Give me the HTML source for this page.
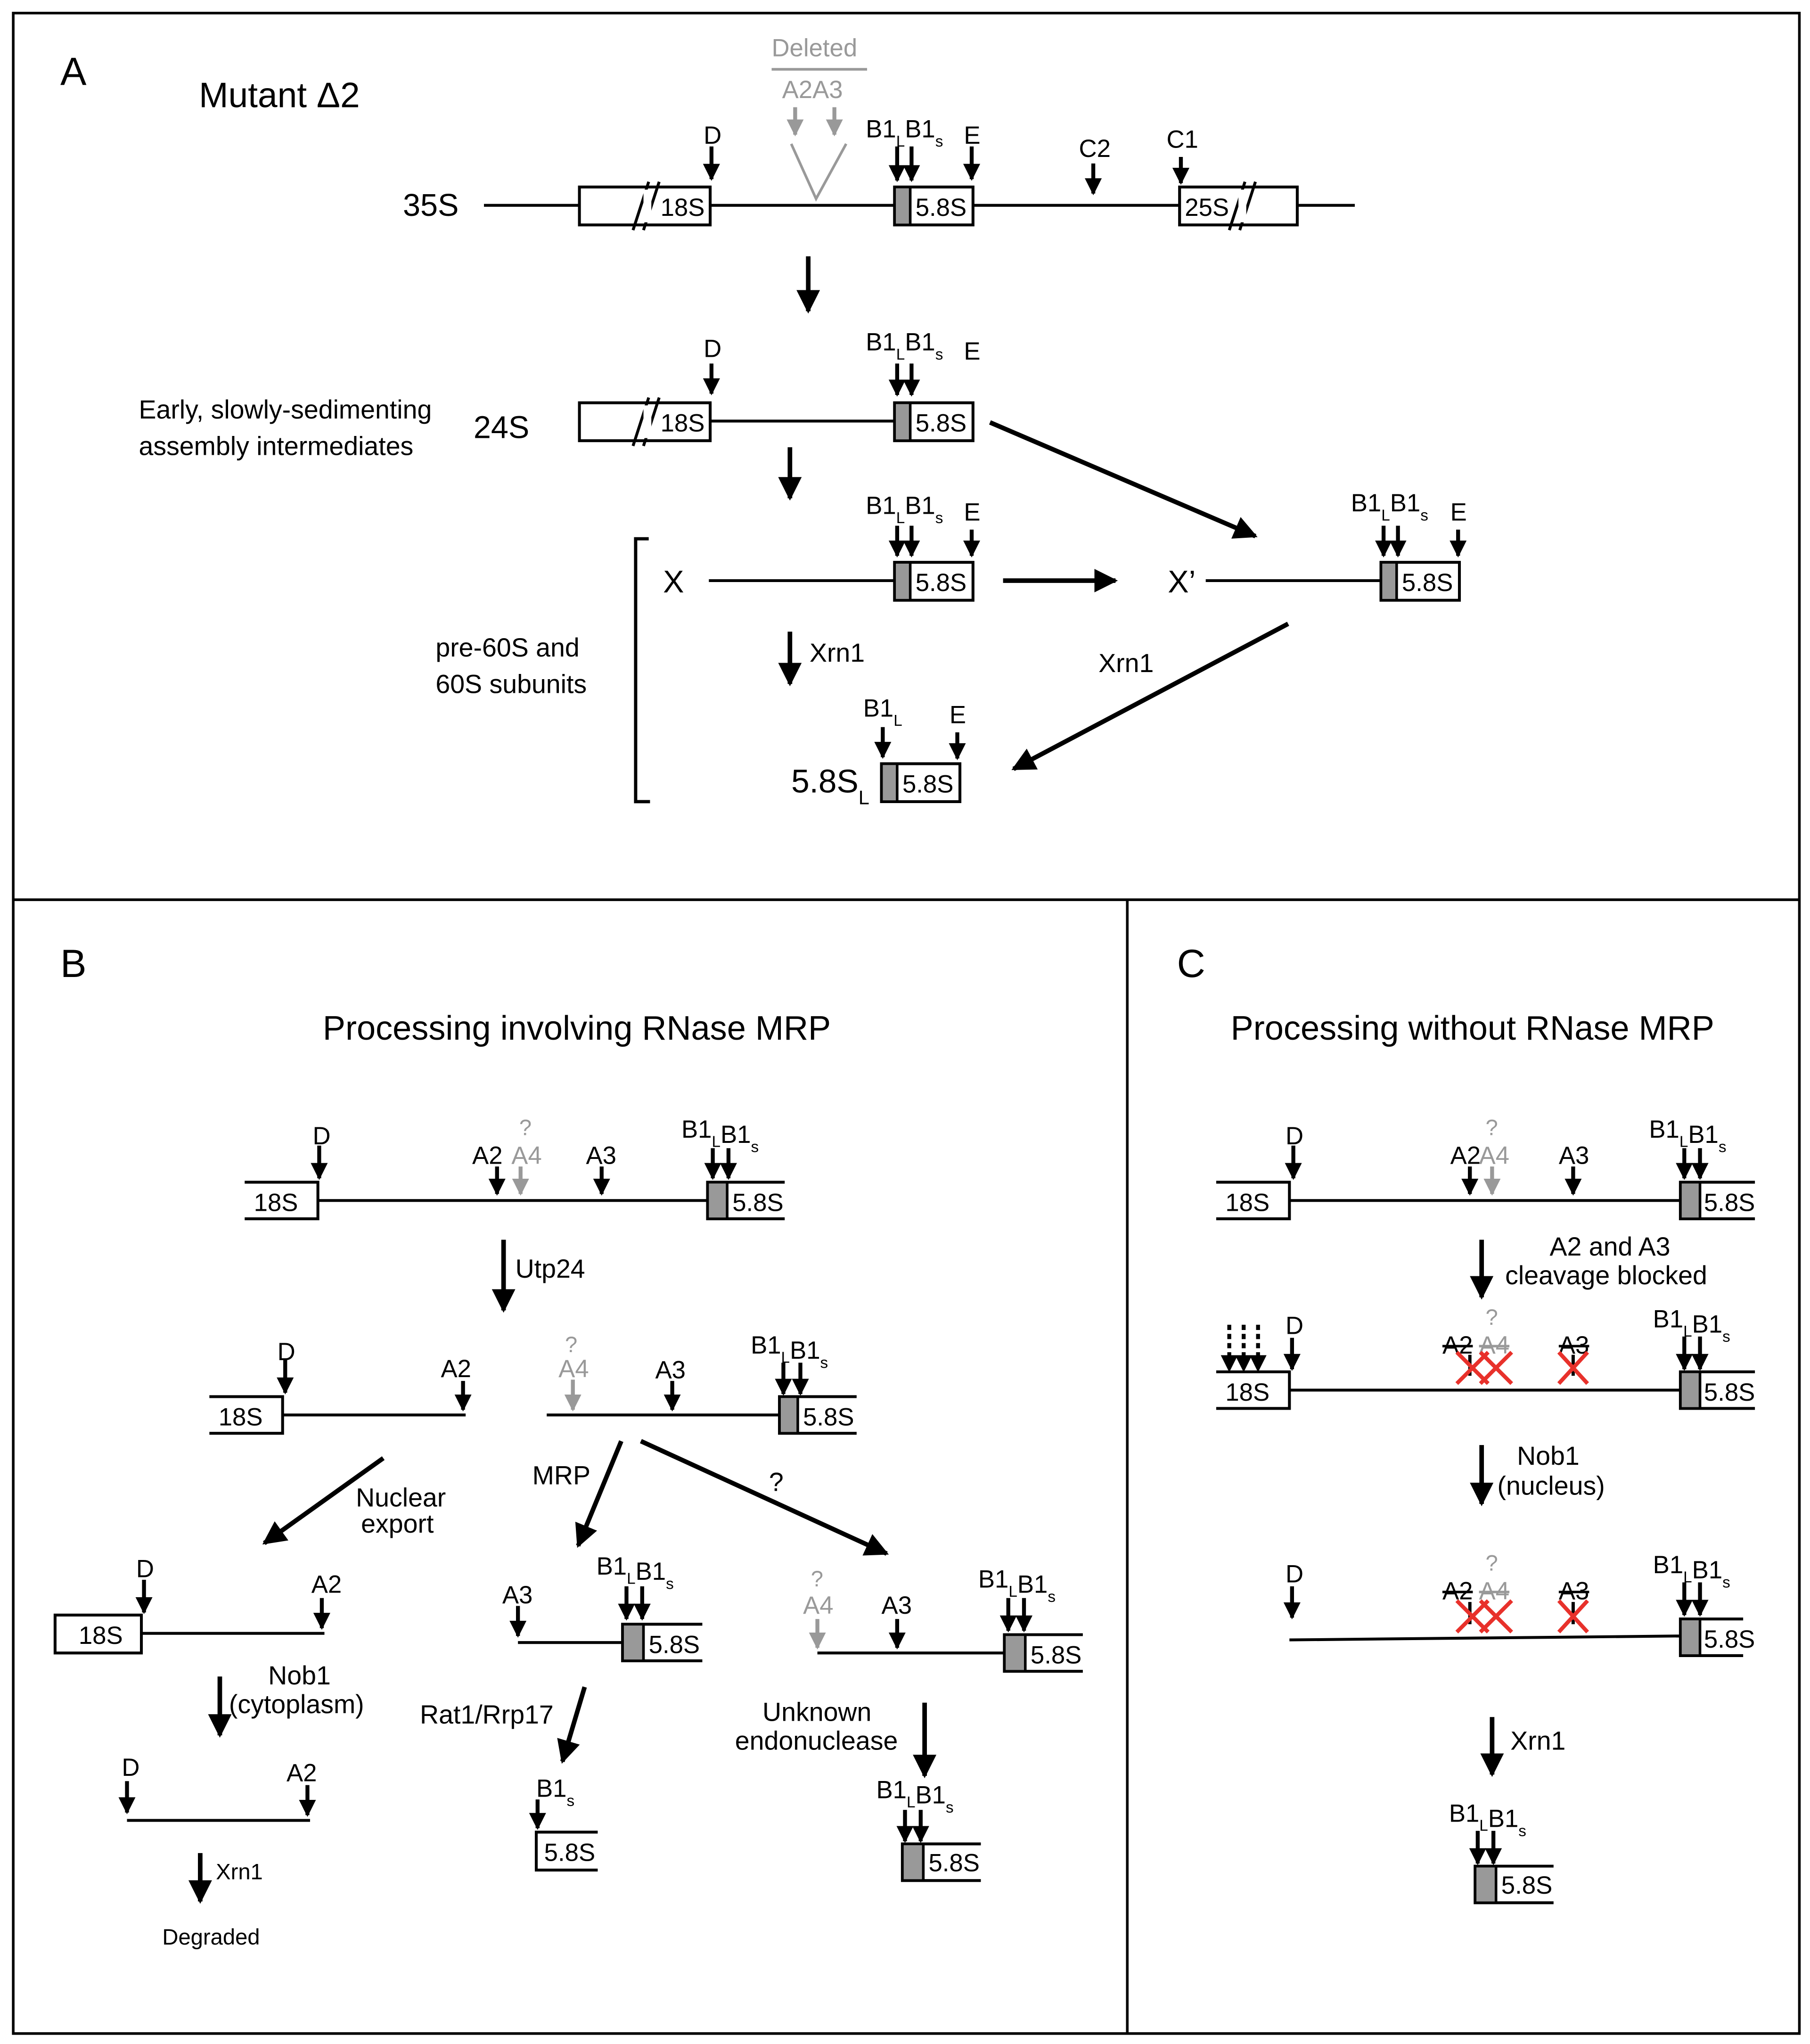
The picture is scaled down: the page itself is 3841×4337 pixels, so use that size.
<!DOCTYPE html>
<html><head><meta charset="utf-8"><style>
html,body{margin:0;padding:0;background:#fff}
svg{display:block}
text{font-family:"Liberation Sans",sans-serif;fill:#000}
.g{fill:#999}
</style></head><body>
<svg width="3841" height="4337" viewBox="0 0 1384 1563" xmlns="http://www.w3.org/2000/svg">
<defs>
<marker id="s" viewBox="0 0 10 10" refX="9" refY="5" markerWidth="13" markerHeight="13" markerUnits="userSpaceOnUse" orient="auto"><path d="M0,0L10,5L0,10z"/></marker>
<marker id="sg" viewBox="0 0 10 10" refX="9" refY="5" markerWidth="13" markerHeight="13" markerUnits="userSpaceOnUse" orient="auto"><path d="M0,0L10,5L0,10z" fill="#999"/></marker>
<marker id="b" viewBox="0 0 10 10" refX="9" refY="5" markerWidth="18" markerHeight="18" markerUnits="userSpaceOnUse" orient="auto"><path d="M0,0L10,5L0,10z"/></marker>
</defs>
<g fill="none" stroke="#000" stroke-width="2">
<rect x="10" y="10" width="1366" height="1545"/>
<line x1="10" y1="688" x2="1376" y2="688"/>
<line x1="862" y1="688" x2="862" y2="1555"/>
</g>

<!-- PANEL A -->
<text x="46" y="65" font-size="30">A</text>
<text x="152" y="82" font-size="27">Mutant Δ2</text>
<text x="590" y="43" font-size="19" class="g">Deleted</text>
<line x1="590" y1="53" x2="663" y2="53" stroke="#999" stroke-width="2"/>
<text x="598" y="75" font-size="19" class="g">A2A3</text>
<g stroke="#999" stroke-width="3" fill="none">
<line x1="608" y1="82" x2="608" y2="103" marker-end="url(#sg)"/>
<line x1="638" y1="82" x2="638" y2="103" marker-end="url(#sg)"/>
</g>
<polyline points="605,110 624,152 647,110" fill="none" stroke="#999" stroke-width="2"/>
<text x="308" y="165" font-size="24">35S</text>
<g fill="none" stroke="#000" stroke-width="2.2">
<line x1="370" y1="157" x2="443" y2="157"/><line x1="543" y1="157" x2="684" y2="157"/><line x1="744" y1="157" x2="902" y2="157"/><line x1="992" y1="157" x2="1036" y2="157"/>
<rect x="443" y="143" width="100" height="29"/>
<line x1="484" y1="176" x2="496" y2="139"/><line x1="492" y1="176" x2="504" y2="139"/>
<rect x="684" y="143" width="60" height="29"/>
<rect x="902" y="143" width="90" height="29"/>
<line x1="940" y1="176" x2="952" y2="139"/><line x1="948" y1="176" x2="960" y2="139"/>
</g>
<rect x="684" y="143" width="12" height="29" fill="#999" stroke="#000" stroke-width="2"/>
<rect x="492" y="145" width="6" height="25" fill="#fff"/>
<rect x="947" y="145" width="6" height="25" fill="#fff"/>
<text x="505" y="165" font-size="19">18S</text>
<text x="700" y="165" font-size="19">5.8S</text>
<text x="906" y="165" font-size="19">25S</text>
<g stroke="#000" stroke-width="3" fill="none" marker-end="url(#s)">
<line x1="544" y1="112" x2="544" y2="137"/>
<line x1="686" y1="112" x2="686" y2="138"/>
<line x1="697" y1="112" x2="697" y2="138"/>
<line x1="743" y1="112" x2="743" y2="137"/>
<line x1="836" y1="125" x2="836" y2="148"/>
<line x1="903" y1="120" x2="903" y2="140"/>
</g>
<text x="538" y="110" font-size="19">D</text>
<text x="662" y="105" font-size="19">B1<tspan font-size="12" dy="7">L</tspan><tspan dy="-7">B1</tspan><tspan font-size="12" dy="7">s</tspan></text>
<text x="737" y="110" font-size="19">E</text>
<text x="825" y="120" font-size="19">C2</text>
<text x="892" y="113" font-size="19">C1</text>
<line x1="618" y1="196" x2="618" y2="238" stroke="#000" stroke-width="3.5" marker-end="url(#b)"/>

<text x="106" y="320" font-size="20">Early, slowly-sedimenting</text>
<text x="106" y="348" font-size="20">assembly intermediates</text>
<text x="362" y="335" font-size="24">24S</text>
<g fill="none" stroke="#000" stroke-width="2.2">
<rect x="443" y="308" width="100" height="29"/>
<line x1="543" y1="322" x2="684" y2="322"/>
<line x1="484" y1="341" x2="496" y2="304"/><line x1="492" y1="341" x2="504" y2="304"/>
<rect x="684" y="308" width="60" height="29"/>
</g>
<rect x="492" y="310" width="6" height="25" fill="#fff"/>
<rect x="684" y="308" width="12" height="29" fill="#999" stroke="#000" stroke-width="2"/>
<text x="505" y="330" font-size="19">18S</text>
<text x="700" y="330" font-size="19">5.8S</text>
<g stroke="#000" stroke-width="3" fill="none" marker-end="url(#s)">
<line x1="544" y1="278" x2="544" y2="301"/>
<line x1="686" y1="278" x2="686" y2="302"/>
<line x1="697" y1="278" x2="697" y2="302"/>
</g>
<text x="538" y="273" font-size="19">D</text>
<text x="662" y="268" font-size="19">B1<tspan font-size="12" dy="7">L</tspan><tspan dy="-7">B1</tspan><tspan font-size="12" dy="7">s</tspan></text>
<text x="737" y="275" font-size="19">E</text>
<line x1="757" y1="323" x2="960" y2="410" stroke="#000" stroke-width="3.5" marker-end="url(#b)"/>
<line x1="604" y1="342" x2="604" y2="381" stroke="#000" stroke-width="3.5" marker-end="url(#b)"/>

<text x="507" y="453" font-size="24">X</text>
<g fill="none" stroke="#000" stroke-width="2.2">
<line x1="542" y1="444" x2="684" y2="444"/>
<rect x="684" y="430" width="60" height="29"/>
<line x1="922" y1="444" x2="1056" y2="444"/>
<rect x="1056" y="430" width="60" height="29"/>
</g>
<rect x="684" y="430" width="12" height="29" fill="#999" stroke="#000" stroke-width="2"/>
<rect x="1056" y="430" width="12" height="29" fill="#999" stroke="#000" stroke-width="2"/>
<text x="700" y="452" font-size="19">5.8S</text>
<text x="1072" y="452" font-size="19">5.8S</text>
<g stroke="#000" stroke-width="3" fill="none" marker-end="url(#s)">
<line x1="686" y1="402" x2="686" y2="425"/>
<line x1="697" y1="402" x2="697" y2="425"/>
<line x1="743" y1="405" x2="743" y2="425"/>
<line x1="1058" y1="402" x2="1058" y2="425"/>
<line x1="1069" y1="402" x2="1069" y2="425"/>
<line x1="1115" y1="405" x2="1115" y2="425"/>
</g>
<text x="662" y="393" font-size="19">B1<tspan font-size="12" dy="7">L</tspan><tspan dy="-7">B1</tspan><tspan font-size="12" dy="7">s</tspan></text>
<text x="737" y="398" font-size="19">E</text>
<text x="1033" y="391" font-size="19">B1<tspan font-size="12" dy="7">L</tspan><tspan dy="-7">B1</tspan><tspan font-size="12" dy="7">s</tspan></text>
<text x="1109" y="398" font-size="19">E</text>
<line x1="767" y1="444" x2="853" y2="444" stroke="#000" stroke-width="3.5" marker-end="url(#b)"/>
<text x="893" y="453" font-size="24">X’</text>
<path d="M496,412H486V613H497" fill="none" stroke="#000" stroke-width="2.5"/>
<text x="333" y="502" font-size="20">pre-60S and</text>
<text x="333" y="530" font-size="20">60S subunits</text>
<line x1="604" y1="483" x2="604" y2="523" stroke="#000" stroke-width="3.5" marker-end="url(#b)"/>
<text x="619" y="506" font-size="20">Xrn1</text>
<text x="840" y="514" font-size="20">Xrn1</text>
<line x1="985" y1="477" x2="775" y2="588" stroke="#000" stroke-width="3.5" marker-end="url(#b)"/>
<text x="605" y="606" font-size="25">5.8S<tspan font-size="15" dy="9">L</tspan></text>
<rect x="674" y="584" width="60" height="29" fill="none" stroke="#000" stroke-width="2.2"/>
<rect x="674" y="584" width="12" height="29" fill="#999" stroke="#000" stroke-width="2"/>
<text x="690" y="606" font-size="19">5.8S</text>
<g stroke="#000" stroke-width="3" fill="none" marker-end="url(#s)">
<line x1="675" y1="556" x2="675" y2="579"/>
<line x1="732" y1="560" x2="732" y2="580"/>
</g>
<text x="660" y="548" font-size="19">B1<tspan font-size="12" dy="7">L</tspan></text>
<text x="726" y="553" font-size="19">E</text>

<!-- PANEL B -->
<text x="46" y="747" font-size="30">B</text>
<text x="441" y="795" font-size="26" text-anchor="middle">Processing involving RNase MRP</text>
<g fill="none" stroke="#000" stroke-width="2.2">
<path d="M187,904H243V932H187"/><line x1="243" y1="918" x2="541" y2="918"/>
<path d="M600,904H541V932H600"/>
<path d="M160,1068H216V1096H160"/><line x1="216" y1="1082" x2="356" y2="1082"/>
<line x1="418" y1="1082" x2="596" y2="1082"/><path d="M655,1068H596V1096H655"/>
<rect x="42" y="1235" width="66" height="29"/><line x1="108" y1="1249" x2="248" y2="1249"/>
<line x1="97" y1="1392" x2="237" y2="1392"/>
<line x1="396" y1="1256" x2="476" y2="1256"/><path d="M537,1242H476V1270H537"/>
<path d="M457,1401H410V1430H457"/>
<line x1="625" y1="1264" x2="768" y2="1264"/><path d="M828,1250H768V1278H828"/>
<path d="M750,1410H690V1438H750"/>
</g>
<g fill="#999" stroke="#000" stroke-width="2">
<rect x="541" y="904" width="15" height="28"/>
<rect x="596" y="1068" width="14" height="28"/>
<rect x="476" y="1242" width="16" height="28"/>
<rect x="768" y="1250" width="16" height="28"/>
<rect x="690" y="1410" width="16" height="28"/>
</g>
<g font-size="19">
<text x="194" y="926">18S</text><text x="560" y="926">5.8S</text>
<text x="167" y="1090">18S</text><text x="614" y="1090">5.8S</text>
<text x="60" y="1257">18S</text>
<text x="496" y="1264">5.8S</text>
<text x="416" y="1423">5.8S</text>
<text x="788" y="1272">5.8S</text>
<text x="710" y="1431">5.8S</text>
</g>
<g stroke="#000" stroke-width="3" fill="none" marker-end="url(#s)">
<line x1="244" y1="876" x2="244" y2="901"/>
<line x1="380" y1="892" x2="380" y2="913"/>
<line x1="460" y1="892" x2="460" y2="913"/>
<line x1="545" y1="878" x2="545" y2="901"/>
<line x1="557" y1="878" x2="557" y2="901"/>
<line x1="218" y1="1040" x2="218" y2="1065"/>
<line x1="354" y1="1056" x2="354" y2="1078"/>
<line x1="514" y1="1056" x2="514" y2="1078"/>
<line x1="599" y1="1042" x2="599" y2="1066"/>
<line x1="612" y1="1042" x2="612" y2="1066"/>
<line x1="110" y1="1208" x2="110" y2="1233"/>
<line x1="246" y1="1222" x2="246" y2="1245"/>
<line x1="97" y1="1362" x2="97" y2="1386"/>
<line x1="235" y1="1365" x2="235" y2="1388"/>
<line x1="396" y1="1228" x2="396" y2="1251"/>
<line x1="479" y1="1213" x2="479" y2="1238"/>
<line x1="491" y1="1213" x2="491" y2="1238"/>
<line x1="411" y1="1376" x2="411" y2="1398"/>
<line x1="686" y1="1238" x2="686" y2="1260"/>
<line x1="771" y1="1222" x2="771" y2="1247"/>
<line x1="783" y1="1222" x2="783" y2="1247"/>
<line x1="692" y1="1384" x2="692" y2="1408"/>
<line x1="704" y1="1384" x2="704" y2="1408"/>
</g>
<g stroke="#999" stroke-width="3" fill="none" marker-end="url(#sg)">
<line x1="398" y1="892" x2="398" y2="913"/>
<line x1="438" y1="1055" x2="438" y2="1078"/>
<line x1="625" y1="1238" x2="625" y2="1260"/>
</g>
<g font-size="19">
<text x="239" y="875">D</text>
<text x="361" y="890">A2</text><text x="391" y="890" class="g">A4</text><text x="397" y="868" class="g" font-size="17">?</text>
<text x="448" y="890">A3</text>
<text x="521" y="870">B1<tspan font-size="12" dy="7">L</tspan><tspan dy="-3">B1</tspan><tspan font-size="12" dy="7">s</tspan></text>
<text x="212" y="1040">D</text>
<text x="337" y="1053">A2</text>
<text x="432" y="1034" class="g" font-size="17">?</text><text x="427" y="1053" class="g">A4</text>
<text x="501" y="1054">A3</text>
<text x="574" y="1035">B1<tspan font-size="12" dy="7">L</tspan><tspan dy="-3">B1</tspan><tspan font-size="12" dy="7">s</tspan></text>
<text x="104" y="1206">D</text>
<text x="238" y="1218">A2</text>
<text x="93" y="1358">D</text>
<text x="219" y="1362">A2</text>
<text x="384" y="1226">A3</text>
<text x="456" y="1204">B1<tspan font-size="12" dy="7">L</tspan><tspan dy="-3">B1</tspan><tspan font-size="12" dy="7">s</tspan></text>
<text x="410" y="1374">B1<tspan font-size="12" dy="7">s</tspan></text>
<text x="620" y="1213" class="g" font-size="17">?</text><text x="614" y="1234" class="g">A4</text>
<text x="674" y="1234">A3</text>
<text x="748" y="1214">B1<tspan font-size="12" dy="7">L</tspan><tspan dy="-3">B1</tspan><tspan font-size="12" dy="7">s</tspan></text>
<text x="670" y="1375">B1<tspan font-size="12" dy="7">L</tspan><tspan dy="-3">B1</tspan><tspan font-size="12" dy="7">s</tspan></text>
</g>
<g stroke="#000" stroke-width="3.5" fill="none" marker-end="url(#b)">
<line x1="385" y1="948" x2="385" y2="1002"/>
<line x1="293" y1="1115" x2="202" y2="1180"/>
<line x1="475" y1="1102" x2="442" y2="1182"/>
<line x1="490" y1="1102" x2="678" y2="1188"/>
<line x1="168" y1="1282" x2="168" y2="1327"/>
<line x1="153" y1="1417" x2="153" y2="1454"/>
<line x1="447" y1="1290" x2="430" y2="1347"/>
<line x1="707" y1="1302" x2="707" y2="1358"/>
</g>
<g font-size="20">
<text x="394" y="977">Utp24</text>
<text x="272" y="1152">Nuclear</text><text x="276" y="1172">export</text>
<text x="407" y="1135">MRP</text>
<text x="588" y="1140">?</text>
<text x="205" y="1288">Nob1</text><text x="175" y="1310">(cytoplasm)</text>
<text x="165" y="1437" font-size="17">Xrn1</text>
<text x="124" y="1487" font-size="17">Degraded</text>
<text x="321" y="1318">Rat1/Rrp17</text>
<text x="583" y="1316">Unknown</text><text x="562" y="1338">endonuclease</text>
</g>

<!-- PANEL C -->
<text x="900" y="747" font-size="30">C</text>
<text x="1126" y="795" font-size="26" text-anchor="middle">Processing without RNase MRP</text>
<g fill="none" stroke="#000" stroke-width="2.2">
<path d="M930,904H986V932H930"/><line x1="986" y1="918" x2="1285" y2="918"/><path d="M1342,904H1285V932H1342"/>
<path d="M930,1049H986V1077H930"/><line x1="986" y1="1063" x2="1285" y2="1063"/><path d="M1342,1049H1285V1077H1342"/>
<line x1="986" y1="1254" x2="1285" y2="1251"/><path d="M1333,1238H1285V1266H1333"/>
<path d="M1188,1427H1128V1455H1188"/>
</g>
<g fill="#999" stroke="#000" stroke-width="2">
<rect x="1285" y="904" width="15" height="28"/>
<rect x="1285" y="1049" width="15" height="28"/>
<rect x="1285" y="1238" width="15" height="28"/>
<rect x="1128" y="1427" width="16" height="28"/>
</g>
<g font-size="19">
<text x="937" y="926">18S</text><text x="1303" y="926">5.8S</text>
<text x="937" y="1071">18S</text><text x="1303" y="1071">5.8S</text>
<text x="1303" y="1260">5.8S</text>
<text x="1148" y="1448">5.8S</text>
</g>
<g stroke="#000" stroke-width="3" fill="none" marker-end="url(#s)">
<line x1="989" y1="876" x2="989" y2="901"/>
<line x1="1124" y1="892" x2="1124" y2="913"/>
<line x1="1203" y1="892" x2="1203" y2="913"/>
<line x1="1288" y1="878" x2="1288" y2="901"/>
<line x1="1300" y1="878" x2="1300" y2="901"/>
<line x1="988" y1="1023" x2="988" y2="1047"/>
<line x1="1288" y1="1022" x2="1288" y2="1047"/>
<line x1="1300" y1="1022" x2="1300" y2="1047"/>
<line x1="988" y1="1213" x2="988" y2="1237"/>
<line x1="1288" y1="1210" x2="1288" y2="1235"/>
<line x1="1300" y1="1210" x2="1300" y2="1235"/>
<line x1="1130" y1="1400" x2="1130" y2="1425"/>
<line x1="1142" y1="1400" x2="1142" y2="1425"/>
</g>
<g stroke="#000" stroke-width="3" fill="none" stroke-dasharray="4,3" marker-end="url(#s)">
<line x1="940" y1="1013" x2="940" y2="1048"/>
<line x1="951" y1="1013" x2="951" y2="1048"/>
<line x1="962" y1="1013" x2="962" y2="1048"/>
</g>
<g stroke="#999" stroke-width="3" fill="none" marker-end="url(#sg)">
<line x1="1141" y1="892" x2="1141" y2="913"/>
</g>
<g font-size="19">
<text x="983" y="875">D</text>
<text x="1109" y="890">A2</text><text x="1131" y="890" class="g">A4</text><text x="1136" y="868" class="g" font-size="17">?</text>
<text x="1192" y="890">A3</text>
<text x="1261" y="870">B1<tspan font-size="12" dy="7">L</tspan><tspan dy="-3">B1</tspan><tspan font-size="12" dy="7">s</tspan></text>
<text x="983" y="1020">D</text>
<text x="1103" y="1035" text-decoration="line-through">A2</text><text x="1131" y="1035" class="g" text-decoration="line-through">A4</text><text x="1136" y="1013" class="g" font-size="17">?</text>
<text x="1192" y="1035" text-decoration="line-through">A3</text>
<text x="1264" y="1015">B1<tspan font-size="12" dy="7">L</tspan><tspan dy="-3">B1</tspan><tspan font-size="12" dy="7">s</tspan></text>
<text x="983" y="1210">D</text>
<text x="1103" y="1223" text-decoration="line-through">A2</text><text x="1131" y="1223" class="g" text-decoration="line-through">A4</text><text x="1136" y="1201" class="g" font-size="17">?</text>
<text x="1192" y="1223" text-decoration="line-through">A3</text>
<text x="1264" y="1203">B1<tspan font-size="12" dy="7">L</tspan><tspan dy="-3">B1</tspan><tspan font-size="12" dy="7">s</tspan></text>
<text x="1108" y="1393">B1<tspan font-size="12" dy="7">L</tspan><tspan dy="-3">B1</tspan><tspan font-size="12" dy="7">s</tspan></text>
</g>
<g stroke="#000" stroke-width="2.5" fill="none">
<line x1="1124" y1="1036" x2="1124" y2="1052"/><line x1="1203" y1="1036" x2="1203" y2="1052"/>
<line x1="1124" y1="1225" x2="1124" y2="1242"/><line x1="1203" y1="1225" x2="1203" y2="1242"/>
</g>
<g stroke="#e8312b" stroke-width="3" fill="none">
<path d="M1114,1034L1138,1058M1138,1034L1114,1058"/>
<path d="M1132,1034L1156,1058M1156,1034L1132,1058"/>
<path d="M1192,1034L1214,1058M1214,1034L1192,1058"/>
<path d="M1114,1224L1138,1248M1138,1224L1114,1248"/>
<path d="M1132,1224L1156,1248M1156,1224L1132,1248"/>
<path d="M1192,1224L1214,1248M1214,1224L1192,1248"/>
</g>
<g stroke="#000" stroke-width="3.5" fill="none" marker-end="url(#b)">
<line x1="1133" y1="948" x2="1133" y2="992"/>
<line x1="1133" y1="1105" x2="1133" y2="1150"/>
<line x1="1141" y1="1313" x2="1141" y2="1357"/>
</g>
<g font-size="20">
<text x="1185" y="960">A2 and A3</text>
<text x="1151" y="982">cleavage blocked</text>
<text x="1160" y="1120">Nob1</text>
<text x="1145" y="1143">(nucleus)</text>
<text x="1155" y="1338">Xrn1</text>
</g>
</svg>
</body></html>
